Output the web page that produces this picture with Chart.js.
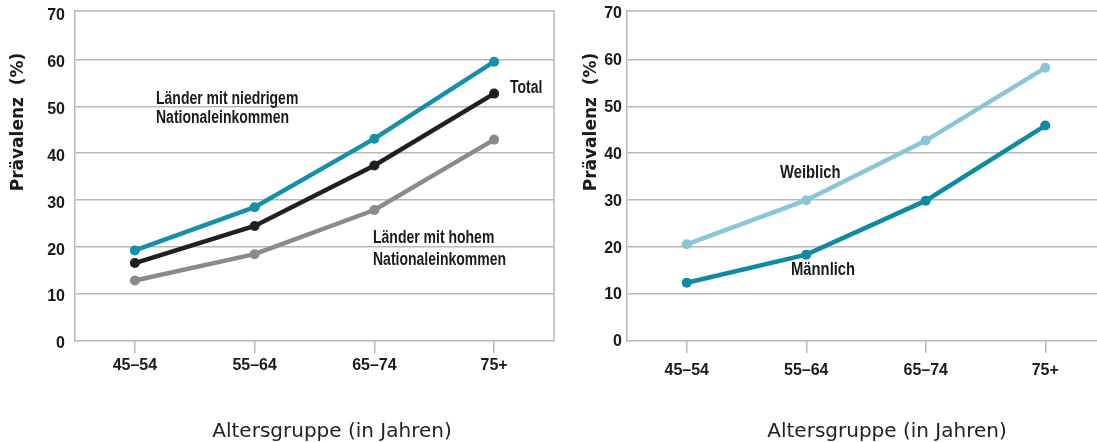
<!DOCTYPE html>
<html>
<head>
<meta charset="utf-8">
<script src="https://cdn.jsdelivr.net/npm/chart.js@4.4.1/dist/chart.umd.min.js"></script>
<style>
  html, body { margin: 0; padding: 0; background: #fff; overflow: hidden; width: 1097px; height: 442px; }
  #left { position: absolute; left: 0; top: 0; }
  #right { position: absolute; left: 560px; top: 0; }
</style>
</head>
<body>
<canvas id="left" width="560" height="442"></canvas>
<canvas id="right" width="560" height="442"></canvas>
<script>
// Data
const ageGroups = ["45–54", "55–64", "65–74", "75+"];
const lowIncome = [19.3, 28.5, 43.1, 59.5];
const totalAll = [16.6, 24.5, 37.4, 52.7];
const highIncome = [12.9, 18.5, 27.9, 42.9];
const female = [20.6, 30.0, 42.7, 58.2];
const male = [12.4, 18.4, 29.9, 45.9];
const yTicks = [0, 10, 20, 30, 40, 50, 60, 70];

const yTitle = "Prävalenz  (%)";
const xTitle = "Altersgruppe (in Jahren)";

const GRID = "#b8b8b8";
const TICK_FONT = { family: "'Liberation Sans', Arial, sans-serif", weight: "bold", size: 16 };

function series(data, color) {
  return {
    data: data,
    borderColor: color,
    backgroundColor: color,
    borderWidth: 4.5,
    pointRadius: 5,
    pointHoverRadius: 5,
    pointBorderWidth: 0,
    tension: 0
  };
}

// narrow bold text: Liberation Sans squeezed horizontally
function narrowText(ctx, text, x, y) {
  ctx.save();
  ctx.translate(x, y);
  ctx.scale(0.8, 1);
  ctx.fillText(text, 0, 0);
  ctx.restore();
}

// frame, titles and in-chart labels
function decorPlugin(cfg) {
  return {
    id: "decor",
    afterDraw(chart) {
      const ctx = chart.ctx;
      const a = chart.chartArea;
      ctx.save();
      ctx.strokeStyle = GRID;
      ctx.lineWidth = 1.5;
      ctx.beginPath();
      ctx.moveTo(a.left, a.top);
      ctx.lineTo(a.right, a.top);
      if (cfg.rightBorder) ctx.lineTo(a.right, a.bottom);
      ctx.stroke();

      ctx.fillStyle = "#1a1a1a";
      ctx.font = "bold " + cfg.noteSize + "px 'Liberation Sans', Arial, sans-serif";
      ctx.textAlign = "left";
      ctx.textBaseline = "alphabetic";
      cfg.notes.forEach(n => narrowText(ctx, n.text, n.x, n.y));

      // y title
      ctx.save();
      ctx.translate(cfg.yTitleX, cfg.yTitleY);
      ctx.rotate(-Math.PI / 2);
      ctx.font = "bold 17px 'DejaVu Sans', sans-serif";
      ctx.textAlign = "center";
      ctx.textBaseline = "middle";
      ctx.fillText(yTitle, 0, 0);
      ctx.restore();

      // x title
      ctx.font = "20px 'DejaVu Sans', sans-serif";
      ctx.textAlign = "center";
      ctx.fillStyle = "#222";
      ctx.fillText(xTitle, cfg.xTitleX, 436.5);
      ctx.restore();
    }
  };
}

function makeChart(id, datasets, cfg) {
  return new Chart(document.getElementById(id), {
    type: "line",
    data: { labels: ageGroups, datasets: datasets },
    options: {
      responsive: false,
      animation: false,
      devicePixelRatio: 1,
      layout: { padding: { top: 11, right: cfg.padRight, left: 0, bottom: 0 } },
      plugins: { legend: { display: false }, tooltip: { enabled: false } },
      scales: {
        x: {
          offset: true,
          grid: { drawOnChartArea: false, color: GRID, lineWidth: 1.5, tickLength: 12 },
          border: { color: GRID, width: 1.5 },
          ticks: { color: "#1a1a1a", padding: cfg.xPad, font: TICK_FONT },
          afterFit(scale) { scale.height = 101; scale.paddingLeft = 0; scale.paddingRight = 0; }
        },
        y: {
          min: 0,
          max: 70.3,
          afterBuildTicks(scale) { scale.ticks = yTicks.map(v => ({ value: v })); },
          grid: {
            color: ctx => (ctx.tick && (ctx.tick.value === 70 || ctx.tick.value === 0)) ? "rgba(0,0,0,0)" : GRID,
            lineWidth: 1.5,
            drawTicks: false
          },
          border: { color: GRID, width: 1.5 },
          ticks: { color: "#1a1a1a", padding: cfg.yPad, labelOffset: cfg.labelOffset, font: TICK_FONT },
          afterFit(scale) { scale.width = cfg.yWidth; scale.paddingTop = 0; scale.paddingBottom = 0; }
        }
      }
    },
    plugins: [decorPlugin(cfg)]
  });
}

makeChart("left", [
  series(highIncome, "#8a8a8c"),
  series(totalAll, "#231f20"),
  series(lowIncome, "#1690a8")
], {
  padRight: 6, yWidth: 75, yPad: 10, labelOffset: 3, xPad: 3,
  rightBorder: true, noteSize: 17.5,
  yTitleX: 19, yTitleY: 122, xTitleX: 332,
  notes: [
    { text: "Länder mit niedrigem", x: 156, y: 104 },
    { text: "Nationaleinkommen", x: 156, y: 123 },
    { text: "Total", x: 510, y: 93 },
    { text: "Länder mit hohem", x: 373, y: 243 },
    { text: "Nationaleinkommen", x: 373, y: 265 }
  ]
});

makeChart("right", [
  series(female, "#8ac6d6"),
  series(male, "#0f8aa1")
], {
  padRight: 15, yWidth: 67, yPad: 5, labelOffset: 1, xPad: 8,
  rightBorder: false, noteSize: 18.5,
  yTitleX: 32, yTitleY: 122, xTitleX: 327,
  notes: [
    { text: "Weiblich", x: 220, y: 177.5 },
    { text: "Männlich", x: 231, y: 275 }
  ]
});
</script>
</body>
</html>
